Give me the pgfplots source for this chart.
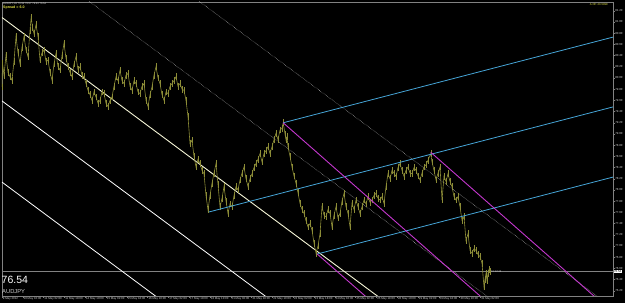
\documentclass[border=0pt]{standalone}
\usepackage{fontspec}
\setmainfont{Liberation Sans}
\usepackage{pgfplots}
\pgfplotsset{compat=1.18}
\definecolor{olivec}{RGB}{140,140,55}
\definecolor{cyanl}{RGB}{70,165,215}
\definecolor{magl}{RGB}{195,55,205}
\definecolor{framec}{RGB}{130,130,130}
\definecolor{lbl}{RGB}{205,205,205}
\definecolor{yel}{RGB}{225,225,70}
\definecolor{creamw}{RGB}{245,245,215}
\begin{document}
\begin{tikzpicture}[x=1pt,y=1pt]
\useasboundingbox (0,0) rectangle (625,303);
\fill[black] (0,0) rectangle (625,303);
\begin{axis}[
  at={(2pt,7pt)}, anchor=south west, scale only axis,
  width=611pt, height=294pt,
  xmin=2, xmax=613, ymin=76.106, ymax=81.357,
  axis line style={draw=framec, line width=0.5pt},
  clip mode=individual,
  xtick pos=bottom, ytick pos=right, yticklabel pos=right,
  tick align=outside, major tick length=1.6pt,
  tick style={draw=framec, line width=0.4pt},
  xtick={2,22.8,...,481},
  xticklabels={9 May 2012,10 May 10:00,11 May 02:00,11 May 18:00,14 May 10:00,15 May 02:00,15 May 18:00,16 May 10:00,17 May 02:00,17 May 18:00,18 May 10:00,21 May 02:00,21 May 18:00,22 May 10:00,23 May 02:00,23 May 18:00,24 May 10:00,25 May 02:00,25 May 18:00,28 May 10:00,29 May 02:00,29 May 18:00,30 May 10:00,31 May 02:00},
  xticklabel style={anchor=north west, font=\fontsize{2.9}{3}\selectfont, text=lbl, inner sep=0.4pt, xshift=0.3pt, yshift=1.2pt},
  ytick={76.2,76.4,...,81.25},
  yticklabel style={font=\fontsize{2.9}{3}\selectfont, text=lbl, inner sep=0.5pt, /pgf/number format/fixed, /pgf/number format/fixed zerofill, /pgf/number format/precision=2, /pgf/number format/assume math mode=true},
]
% bid line
\addplot[framec, line width=0.45pt] coordinates {(2,76.54) (613,76.54)};
% white parallel lines
\addplot[creamw, line width=0.9pt] coordinates {(2,81.08) (400,75.806)};
\addplot[white, line width=0.8pt] coordinates {(2,79.59) (400,74.32)};
\addplot[white, line width=0.8pt] coordinates {(2,78.14) (300,74.19)};
% dotted lines
\addplot[lbl, densely dotted, line width=0.45pt] coordinates {(80,81.49) (500,75.93)};
\addplot[lbl, densely dotted, line width=0.45pt] coordinates {(190,81.49) (620,75.80)};
% price (H1 bars drawn as close line with bar range)
\addplot[olivec, line width=0.6pt, error bars/.cd, y dir=both, y fixed=0.06, error mark=none, error bar style={olivec, line width=0.5pt}] coordinates {
(2,79.84)(2.5,80.26)(4,80.05)(6,80.41)(8,80.10)(10,80.02)(12,79.96)(14,80.30)(16,80.74)(18,80.45)(20,80.26)(22,80.55)(24,80.74)(26,80.50)(28,80.38)(30,80.85)(31.2,81.09)(32.5,80.90)(34,80.79)(36,80.95)(38,80.74)(40,80.32)(42,80.45)(44,80.50)(46,80.30)(48,80.32)(50,80.10)(52,79.96)(54,80.25)(56,80.44)(58,80.20)(60,80.14)(62,80.40)(64,80.62)(66,80.35)(68,80.20)(70,80.10)(72,80.02)(74,80.25)(76,80.38)(78,80.15)(80,80.20)(82,80.05)(84,80.02)(86,79.90)(88,79.78)(90,79.70)(92,79.60)(94,79.75)(96,79.66)(98,79.55)(100,79.60)(102,79.75)(104,79.72)(106,79.55)(108,79.49)(110,79.60)(112,79.66)(114,79.85)(116,80.02)(118,79.95)(120,80.14)(122,79.95)(124,79.90)(126,80.05)(128,80.08)(130,79.85)(132,79.78)(134,79.95)(136,79.90)(138,79.75)(140,79.72)(142,79.85)(144,79.90)(146,79.60)(148,79.49)(150,79.70)(152,79.84)(154,80.05)(156,80.20)(158,80.00)(160,79.90)(162,79.70)(164,79.60)(166,79.75)(168,79.72)(170,79.85)(172,79.90)(174,79.95)(176,80.02)(178,79.85)(180,79.90)(182,79.80)(184,79.78)(186,79.60)(188,79.31)(190,78.83)(192,78.89)(194,78.60)(196,78.41)(198,78.55)(200,78.47)(202,78.35)(204,78.29)(206,77.90)(208,77.64)(210,77.90)(212,78.12)(214,78.30)(216,78.47)(218,78.10)(220,77.70)(222,77.85)(224,78.06)(226,77.80)(228,77.58)(230,77.75)(232,77.70)(234,77.90)(236,78.06)(238,78.00)(240,78.18)(242,78.30)(244,78.41)(246,78.20)(248,78.06)(250,78.20)(252,78.29)(254,78.40)(256,78.47)(258,78.55)(260,78.65)(262,78.50)(264,78.65)(266,78.70)(268,78.77)(270,78.65)(272,78.77)(274,78.90)(276,79.01)(278,78.90)(280,79.07)(282,79.10)(283.2,79.20)(285,79.00)(286,78.89)(287,78.95)(288,78.77)(290,78.60)(292,78.41)(294,78.25)(296,78.12)(298,77.95)(300,77.76)(302,77.65)(304,77.58)(306,77.45)(308,77.34)(310,77.40)(312,77.28)(314,77.05)(316,76.87)(318,77.00)(320,77.22)(322,77.70)(324,77.55)(326,77.52)(328,77.65)(330,77.58)(332,77.34)(334,77.55)(336,77.70)(338,77.50)(340,77.58)(342,77.80)(344,77.94)(346,77.70)(348,77.58)(350,77.34)(352,77.76)(354,77.65)(356,77.82)(358,77.70)(360,77.58)(362,77.70)(364,77.82)(366,77.75)(368,77.88)(370,77.78)(372,77.82)(374,77.90)(376,77.94)(378,77.85)(380,77.82)(382,77.88)(384,77.76)(386,78.06)(388,78.29)(390,78.20)(392,78.35)(394,78.30)(396,78.24)(398,78.40)(400,78.47)(402,78.35)(404,78.24)(406,78.35)(408,78.41)(410,78.30)(412,78.29)(414,78.40)(416,78.35)(418,78.25)(420,78.18)(422,78.30)(424,78.41)(426,78.45)(428,78.53)(430.8,78.65)(432,78.50)(434,78.35)(436,78.18)(438,78.30)(440,78.41)(442,77.82)(444,78.24)(446,78.15)(448,78.29)(450,78.15)(452,78.06)(454,77.88)(456,77.82)(458,77.88)(460,77.70)(462,77.46)(464,77.52)(466,77.10)(468,77.22)(470,76.92)(472,76.87)(474,76.95)(476,76.92)(478,76.85)(480,76.81)(482,76.69)(484,76.27)(485,76.40)(486,76.51)(487,76.38)(488,76.51)(489,76.58)(490,76.54)};
% cyan pitchfork lines
\addplot[cyanl, line width=0.8pt] coordinates {(283.2,79.20) (613,80.73)};
\addplot[cyanl, line width=0.8pt] coordinates {(208.8,77.606) (613,79.483)};
\addplot[cyanl, line width=0.8pt] coordinates {(317.2,76.856) (613,78.230)};
% magenta lines
\addplot[magl, line width=0.9pt] coordinates {(283.2,79.20) (490,75.95)};
\addplot[magl, line width=0.9pt] coordinates {(317.2,76.856) (370,76.03)};
\addplot[magl, line width=0.9pt] coordinates {(430.8,78.672) (600,76.01)};
% price box and countdown
\node[fill=white, text=black, anchor=west, inner sep=0.4pt, font=\fontsize{2.9}{3}\selectfont] at (axis cs:613.5,76.54) {76.54};
\node[text=lbl, anchor=west, inner sep=0pt, font=\fontsize{2.6}{3}\selectfont] at (axis cs:491,76.55) {10:12:44};
\end{axis}
\node[anchor=west, inner sep=0pt, text=lbl, font=\fontsize{2.6}{3}\selectfont] at (3,299.6) {AUDJPY,H1 76.55 76.57 76.53 76.54};
\node[anchor=west, inner sep=0pt, text=yel, font=\fontsize{3.6}{4}\selectfont\bfseries] at (3,295.6) {Spread = 6.0};
\node[anchor=east, inner sep=0pt, text=yel, font=\fontsize{2.8}{3}\selectfont] at (608,298) {A OP-20-5998};
\node[anchor=west, inner sep=0pt, text=white, font=\fontsize{10.5}{12}\selectfont] at (1.5,23) {76.54};
\node[anchor=west, inner sep=0pt, text=lbl, font=\fontsize{5.8}{7}\selectfont] at (2,11) {AUDJPY};
\end{tikzpicture}
\end{document}
